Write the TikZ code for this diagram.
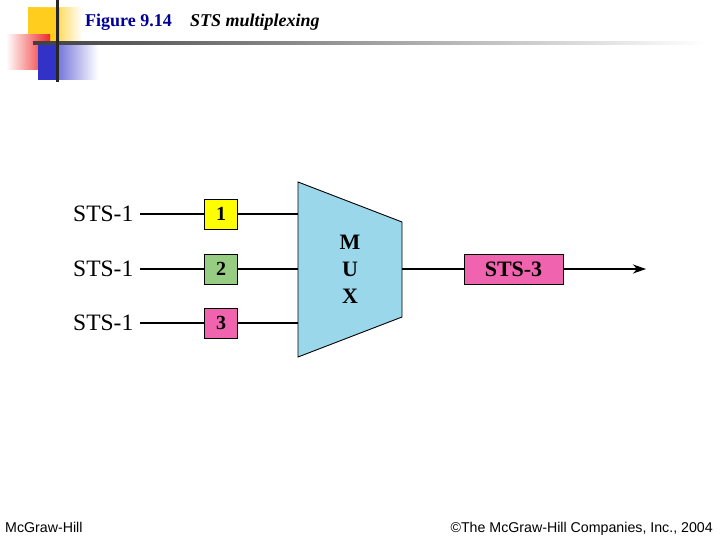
\documentclass[tikz,border=0pt]{standalone}
\usepackage{fontspec}
\setmainfont{Liberation Serif}
\newfontfamily\footfont{Liberation Sans}
\usetikzlibrary{arrows.meta}
\definecolor{yel}{RGB}{255,255,0}
\definecolor{grn}{RGB}{150,205,130}
\definecolor{pnk}{RGB}{240,100,175}
\definecolor{muxc}{RGB}{155,215,235}
\definecolor{ttl}{RGB}{0,0,150}
\definecolor{decy}{RGB}{255,205,30}
\definecolor{decr}{RGB}{240,40,40}
\definecolor{decb}{RGB}{50,50,200}
\tikzset{
  numbox/.style={draw=black, line width=0.8pt, minimum width=33pt, minimum height=30pt, inner sep=0pt, font=\fontsize{20}{22}\selectfont\bfseries},
  stslabel/.style={anchor=west, inner sep=0pt, font=\fontsize{23.5}{26}\selectfont},
  wire/.style={line width=1.1pt},
  foot/.style={font=\footfont\fontsize{14.2}{16}\selectfont, inner sep=0pt}
}
\begin{document}
\begin{tikzpicture}[x=1pt,y=-1pt]
\useasboundingbox (0,0) rectangle (720,540);
\fill[white] (0,0) rectangle (720,540);
% decoration
\shade[left color=decy, right color=white, middle color=decy!80!white, shading angle=90] (28,8) rectangle (82,45);
\fill[decy] (28,8) rectangle (60,45);
\shade[left color=white, right color=decr] (6,35) rectangle (50,70);
\shade[left color=decb, right color=white] (38,43) rectangle (98,80);
\fill[decb] (38,43) rectangle (57,80);
\shade[left color=black!75, right color=white] (33,42) rectangle (705,45);
\fill[black!85] (55.5,0) rectangle (58.5,82);
% title
\node[anchor=base west, inner sep=0pt, text=ttl, font=\fontsize{18}{20}\selectfont\bfseries] (fig) at (85,27) {Figure 9.14};
\node[anchor=base west, inner sep=0pt, font=\fontsize{18}{20}\selectfont\bfseries\itshape] (cap) at (190,27) {STS multiplexing};
% inputs
\node[stslabel] (l1) at (73,214) {STS-1};
\node[stslabel] (l2) at (73,269) {STS-1};
\node[stslabel] (l3) at (73,323) {STS-1};
\node[numbox, fill=yel] (b1) at (221,214) {1};
\node[numbox, fill=grn] (b2) at (221,269) {2};
\node[numbox, fill=pnk] (b3) at (221,323) {3};
% mux
\draw[line width=0.9pt, fill=muxc] (298,182) -- (402,222) -- (402,317) -- (298,357) -- cycle;
\node[inner sep=0pt, align=center, font=\fontsize{22}{27}\selectfont\bfseries] (mux) at (350,269) {M\\U\\X};
\coordinate (m1) at (298,214);
\coordinate (m2) at (298,269);
\coordinate (m3) at (298,323);
\coordinate (mo) at (402,269);
\node[draw=black, line width=0.9pt, fill=pnk, minimum width=99pt, minimum height=30pt, inner sep=0pt, font=\fontsize{22}{24}\selectfont\bfseries] (s3) at (513.5,269) {STS-3};
\coordinate (out) at (646,269);
\draw[wire] (140,214) -- (b1.west);
\draw[wire] (140,269) -- (b2.west);
\draw[wire] (140,323) -- (b3.west);
\draw[wire] (b1.east) -- (m1);
\draw[wire] (b2.east) -- (m2);
\draw[wire] (b3.east) -- (m3);
\draw[wire] (mo) -- (s3.west);
\draw[wire, -{Stealth[length=13pt, width=9pt, inset=4pt]}] (s3.east) -- (out);
% footer
\node[foot, anchor=base west] (f1) at (5,532) {McGraw-Hill};
\node[foot, anchor=base east] (f2) at (713,532) {©The McGraw-Hill Companies, Inc., 2004};
\end{tikzpicture}
\end{document}
